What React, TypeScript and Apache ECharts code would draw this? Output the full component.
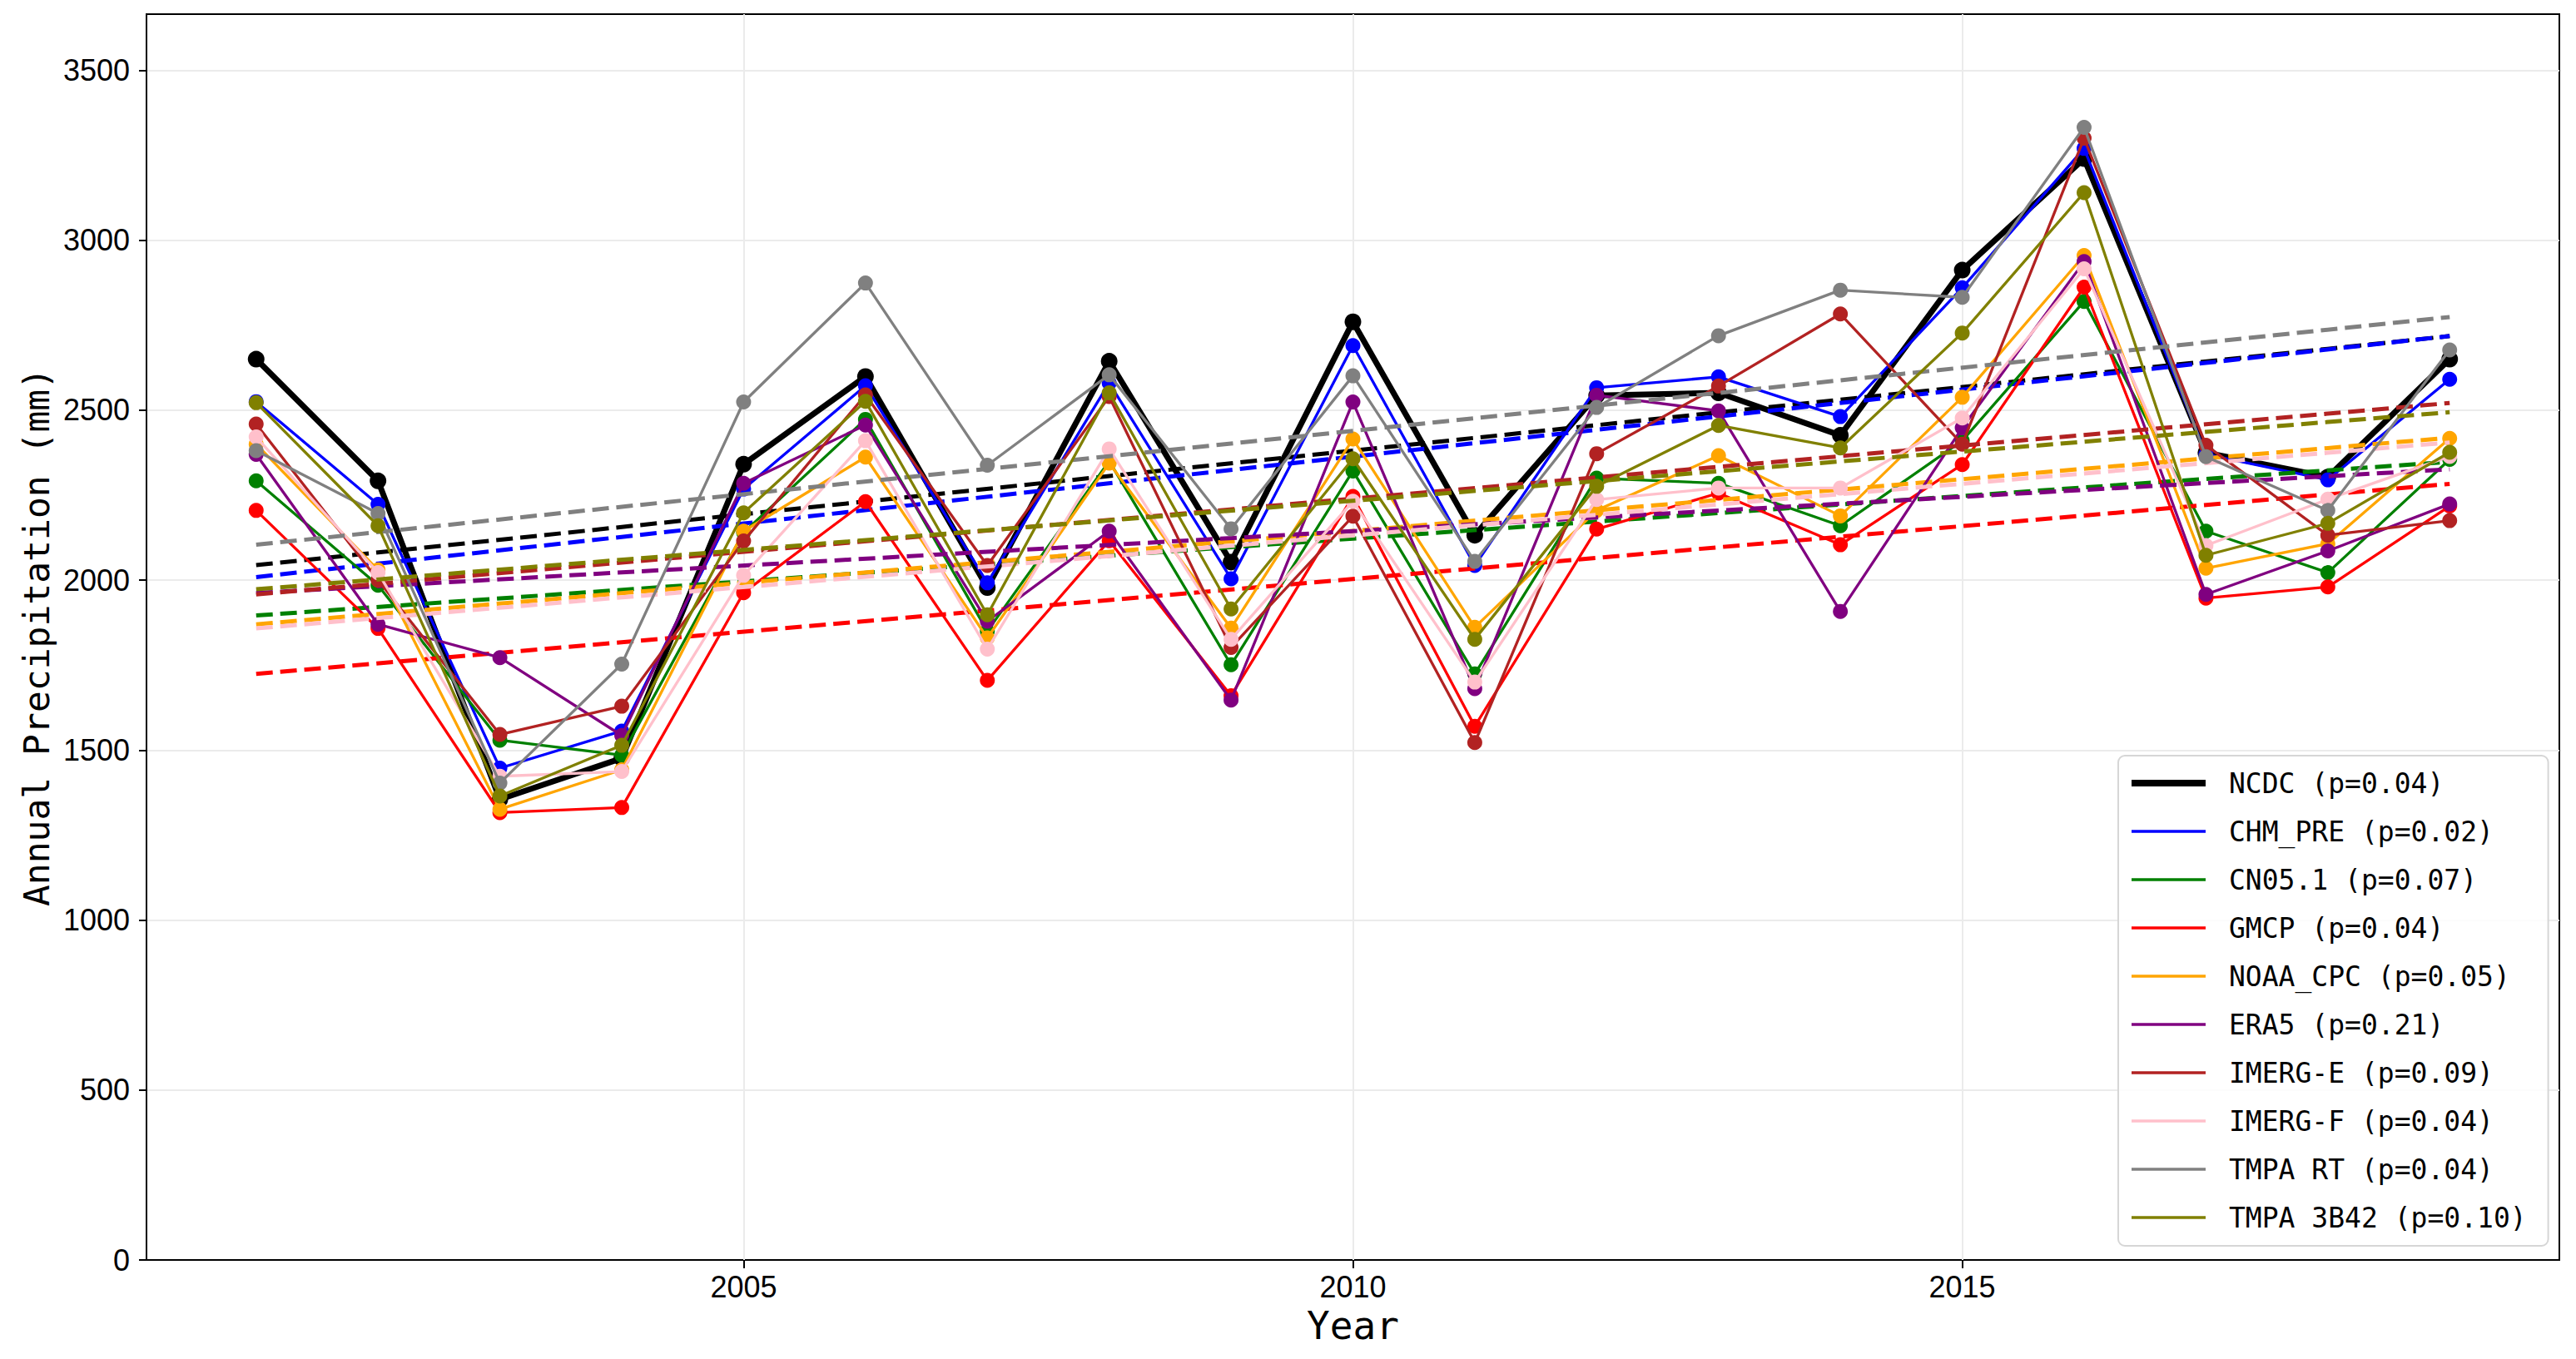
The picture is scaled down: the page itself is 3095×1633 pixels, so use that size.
import { useEffect, useRef } from 'react';
import * as echarts from 'echarts';

// years on the x axis
const years = [2001, 2002, 2003, 2004, 2005, 2006, 2007, 2008, 2009, 2010, 2011, 2012, 2013, 2014, 2015, 2016, 2017, 2018, 2019];

const names = ['NCDC', 'CHM_PRE', 'CN05.1', 'GMCP', 'NOAA_CPC', 'ERA5', 'IMERG-E', 'IMERG-F', 'TMPA RT', 'TMPA 3B42'];
const pValues = ['0.04', '0.02', '0.07', '0.04', '0.05', '0.21', '0.09', '0.04', '0.04', '0.10'];
const colors = ['#000000', '#0000ff', '#008000', '#ff0000', '#ffa500', '#800080', '#b22222', '#ffc0cb', '#808080', '#808000'];

// annual precipitation (mm)
const ncdc = [2650, 2292, 1355, 1476, 2341, 2599, 1978, 2644, 2053, 2760, 2132, 2543, 2551, 2426, 2912, 3240, 2375, 2303, 2650];
const chmPre = [2525, 2223, 1447, 1556, 2268, 2572, 1992, 2580, 2004, 2690, 2043, 2566, 2598, 2481, 2860, 3270, 2370, 2295, 2591];
const cn051 = [2292, 1985, 1529, 1485, 2140, 2473, 1850, 2350, 1751, 2321, 1724, 2300, 2285, 2160, 2410, 2820, 2144, 2022, 2355];
const gmcp = [2205, 1858, 1316, 1331, 1963, 2231, 1705, 2116, 1660, 2246, 1570, 2150, 2256, 2104, 2340, 2862, 1947, 1980, 2218];
const noaaCpc = [2400, 2030, 1326, 1442, 2144, 2362, 1830, 2344, 1859, 2415, 1861, 2205, 2366, 2189, 2538, 2955, 2035, 2107, 2417];
const era5 = [2370, 1870, 1772, 1543, 2285, 2456, 1879, 2144, 1647, 2524, 1681, 2544, 2498, 1908, 2448, 2937, 1958, 2086, 2224];
const imergE = [2459, 2000, 1546, 1629, 2115, 2545, 2043, 2540, 1802, 2188, 1522, 2372, 2571, 2783, 2400, 3300, 2397, 2132, 2175];
const imergF = [2421, 2022, 1423, 1437, 2014, 2410, 1797, 2386, 1826, 2232, 1700, 2237, 2271, 2271, 2477, 2916, 2102, 2238, 2364];
const tmpaRt = [2381, 2196, 1403, 1753, 2524, 2874, 2338, 2604, 2151, 2601, 2055, 2508, 2719, 2853, 2832, 3332, 2363, 2205, 2677];
const tmpa3b42 = [2522, 2160, 1365, 1514, 2198, 2526, 1898, 2551, 1915, 2357, 1826, 2276, 2455, 2389, 2727, 3140, 2073, 2167, 2376];

// fitted trend lines, value at first and last year
const trendStart = [2044, 2009, 1896, 1724, 1870, 1962, 1958, 1858, 2104, 1973];
const trendEnd = [2718, 2718, 2348, 2283, 2419, 2326, 2521, 2405, 2774, 2494];

const xTicks = [2005, 2010, 2015];
const yTicks = [0, 500, 1000, 1500, 2000, 2500, 3000, 3500];

const allValues = [ncdc, chmPre, cn051, gmcp, noaaCpc, era5, imergE, imergF, tmpaRt, tmpa3b42];

const SANS = '"Liberation Sans", Arial, sans-serif';
const MONO = '"DejaVu Sans Mono", "Liberation Mono", monospace';

export default function App() {
  const chartRef = useRef<HTMLDivElement>(null);

  useEffect(() => {
    if (!chartRef.current) return;
    const chart = echarts.init(chartRef.current, null, { renderer: 'svg' });

    const labels = names.map((n, i) => `${n} (p=${pValues[i]})`);

    const series: any[] = [];
    allValues.forEach((vals, i) => {
      const thick = i === 0;
      series.push({
        type: 'line',
        name: labels[i],
        data: years.map((y, k) => [y, vals[k]]),
        symbol: 'circle',
        symbolSize: thick ? 20 : 18,
        lineStyle: { color: colors[i], width: thick ? 7 : 3.3 },
        itemStyle: { color: colors[i] },
        z: 2 + i * 0.05,
      });
      series.push({
        type: 'line',
        name: names[i] + ' trend',
        data: [
          [years[0], trendStart[i]],
          [years[years.length - 1], trendEnd[i]],
        ],
        symbol: 'none',
        lineStyle: { color: colors[i], width: 5, type: [20, 9] },
        z: 2 + i * 0.05 + 0.02,
      });
    });

    // vertical grid lines at the year ticks
    series.push({
      type: 'line',
      name: 'xgrid',
      data: [],
      z: 1,
      markLine: {
        silent: true,
        symbol: ['none', 'none'],
        label: { show: false },
        z: 1,
        lineStyle: { color: '#ebebeb', width: 2, type: 'solid' },
        data: xTicks.map((v) => ({ xAxis: v })),
      },
    });

    const option: echarts.EChartsOption = {
      animation: false,
      backgroundColor: '#ffffff',
      textStyle: { fontFamily: SANS },
      grid: {
        left: 176,
        right: 20,
        top: 17,
        bottom: 119,
        show: true,
        borderColor: '#000',
        borderWidth: 2,
        backgroundColor: 'transparent',
      },
      xAxis: {
        type: 'value',
        min: 2000.1,
        max: 2019.9,
        name: 'Year',
        nameLocation: 'middle',
        nameGap: 56,
        nameTextStyle: { fontFamily: MONO, fontSize: 46, color: '#000' },
        axisLine: { show: true, lineStyle: { color: '#000', width: 2 } },
        axisTick: { show: true, customValues: xTicks, length: 10, lineStyle: { color: '#000', width: 2 } },
        axisLabel: {
          customValues: xTicks,
          margin: 14,
          fontFamily: SANS,
          fontSize: 36,
          color: '#000',
          formatter: (v: number) => String(v),
        },
        splitLine: { show: false },
      },
      yAxis: {
        type: 'value',
        min: 0,
        max: 3665,
        interval: 500,
        name: 'Annual Precipitation (mm)',
        nameLocation: 'middle',
        nameGap: 100,
        nameRotate: 90,
        nameTextStyle: { fontFamily: MONO, fontSize: 43, color: '#000' },
        axisLine: { show: true, lineStyle: { color: '#000', width: 2 } },
        axisTick: { show: true, customValues: yTicks, length: 9, lineStyle: { color: '#000', width: 2 } },
        axisLabel: {
          customValues: yTicks,
          margin: 20,
          fontFamily: SANS,
          fontSize: 36,
          color: '#000',
          formatter: (v: number) => String(v),
        },
        splitLine: { show: true, lineStyle: { color: '#ebebeb', width: 2 } },
      },
      legend: {
        orient: 'vertical',
        left: 2545,
        top: 908,
        data: labels.map((l, i) => ({
          name: l,
          lineStyle: { width: i === 0 ? 8 : 3.5, color: colors[i] },
        })),
        itemWidth: 89,
        itemHeight: 2,
        itemGap: 18,
        padding: [13, 26, 14, 12],
        backgroundColor: 'rgba(255,255,255,0.85)',
        borderColor: '#d6d6d6',
        borderWidth: 2,
        borderRadius: 8,
        textStyle: {
          fontFamily: MONO,
          fontSize: 33,
          color: '#000',
          lineHeight: 40,
          padding: [0, 0, 0, 23],
        },
      },
      series,
    };

    chart.setOption(option);

    return () => {
      chart.dispose();
    };
  }, []);

  return (
    <div
      ref={chartRef}
      style={{ position: 'fixed', left: 0, top: 0, width: '100vw', height: '100vh' }}
    />
  );
}
